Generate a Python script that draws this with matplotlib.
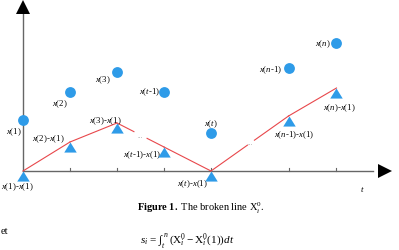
import matplotlib
matplotlib.use("Agg")
import matplotlib.pyplot as plt
from matplotlib.path import Path
import numpy as np

plt.rcParams['font.family'] = ['Liberation Serif', 'DejaVu Serif']
plt.rcParams['mathtext.fontset'] = 'custom'
plt.rcParams['mathtext.rm'] = 'Liberation Serif'
plt.rcParams['mathtext.it'] = 'Liberation Serif:italic'
plt.rcParams['mathtext.bf'] = 'Liberation Serif:bold'

# ---- data (schematic) ----
t_pos = [0, 1, 2, 3, 4, 5.65, 6.67]
x_vals = [5.1, 7.9, 9.9, 7.9, 3.8, 10.3, 12.8]
diff_vals = [0, 2.9, 4.8, 2.4, 0, 5.5, 8.3]
x_labels = ['$x$(1)', '$x$(2)', '$x$(3)', '$x$($t$-1)', '$x$($t$)', '$x$($n$-1)', '$x$($n$)']
diff_labels = ['$x$(1)-$x$(1)', '$x$(2)-$x$(1)', '$x$(3)-$x$(1)', '$x$($t$-1)-$x$(1)',
               '$x$($t$)-$x$(1)', '$x$($n$-1)-$x$(1)', '$x$($n$)-$x$(1)']

# label offsets (pixels) and alignment
x_lab_off = [(-1, -11, 'right'), (-2, -11, 'right'), (-6, -7, 'right'), (-4, 1, 'right'),
             (0, 10, 'center'), (-6, -1, 'right'), (-6, 0, 'right')]
d_lab_off = [(-6, -15, 'center'), (-5, 4, 'right'), (-12, 3, 'center'), (-3, -7, 'right'),
             (-3, -12, 'right'), (5, -18, 'center'), (3, -19, 'center')]

blue = '#2E9BE8'
red = '#E8474B'
gray = '#666666'

fig = plt.figure(figsize=(3.99, 2.51), dpi=100)
ax = fig.add_axes([0, 0, 1, 1])
ax.set_xlim(-23 / 47, 376 / 47)
ax.set_ylim(-7.9, 17.2)
ax.axis('off')

# axes lines
x_end = 7.7
ax.plot([0, 7.45], [0, 0], color=gray, lw=1.0, zorder=1)
ax.plot([0, 0], [0, 16.2], color=gray, lw=1.0, zorder=1)
ax.plot([x_end], [0], marker='>', color='black', ms=10, zorder=2, markeredgewidth=0)
ax.plot([0], [16.4], marker='^', color='black', ms=10, zorder=2, markeredgewidth=0)
for tp in t_pos[1:]:
    ax.plot([tp, tp], [0, 0.35], color=gray, lw=0.8, zorder=1)
ax.text(7.22, -1.7, '$t$', fontsize=6.5, ha='center', va='center')

# red broken line with gaps
def seg(i, j, f0, f1):
    xa, ya = t_pos[i], diff_vals[i]
    xb, yb = t_pos[j], diff_vals[j]
    return ([xa + (xb - xa) * f0, xa + (xb - xa) * f1],
            [ya + (yb - ya) * f0, ya + (yb - ya) * f1])

pieces = [seg(0, 1, 0, 1), seg(1, 2, 0, 1), seg(2, 3, 0, 0.36), seg(2, 3, 0.64, 1),
          seg(3, 4, 0, 1), seg(4, 5, 0, 0.47), seg(4, 5, 0.56, 1), seg(5, 6, 0, 1)]
for xs, ys in pieces:
    ax.plot(xs, ys, color=red, lw=0.8, zorder=3)
for (i, j, f) in [(2, 3, 0.5), (4, 5, 0.51)]:
    xs, ys = seg(i, j, f, f)
    ax.text(xs[0], ys[0], '...', fontsize=5, color='#888888', ha='center', va='center')

# triangles with apex at the point
tri = Path([(0, 0), (-0.62, -1), (0.62, -1), (0, 0)],
           [Path.MOVETO, Path.LINETO, Path.LINETO, Path.CLOSEPOLY])
ax.plot(t_pos, diff_vals, linestyle='none', marker=tri, ms=14.5, color=blue,
        markeredgewidth=0, zorder=4)
ax.plot(t_pos, x_vals, linestyle='none', marker='o', ms=7.8, color=blue,
        markeredgewidth=0, zorder=4)

for tp, v, lab, (dx, dy, ha) in zip(t_pos, x_vals, x_labels, x_lab_off):
    ax.annotate(lab, (tp, v), xytext=(dx, dy), textcoords='offset pixels',
                ha=ha, va='center', fontsize=6.3)
for tp, v, lab, (dx, dy, ha) in zip(t_pos, diff_vals, diff_labels, d_lab_off):
    ax.annotate(lab, (tp, v), xytext=(dx, dy), textcoords='offset pixels',
                ha=ha, va='center', fontsize=6.3)

# caption and page text
fig.text(137 / 399, 1 - 208 / 251, r'$\mathbf{Figure\ 1.}$ The broken line X$_i^0$.',
         fontsize=7.5, ha='left', va='center')
fig.text(1 / 399, 1 - 232 / 251, 'et', fontsize=7.5, ha='left', va='center')
fig.text(140 / 399, 1 - 241 / 251, r'$s_i\,=\,\int_t^{\,n}\,(\mathrm{X}_i^0-\mathrm{X}_i^0(1))dt$',
         fontsize=8, ha='left', va='center')

fig.savefig('out.png', dpi=100)
